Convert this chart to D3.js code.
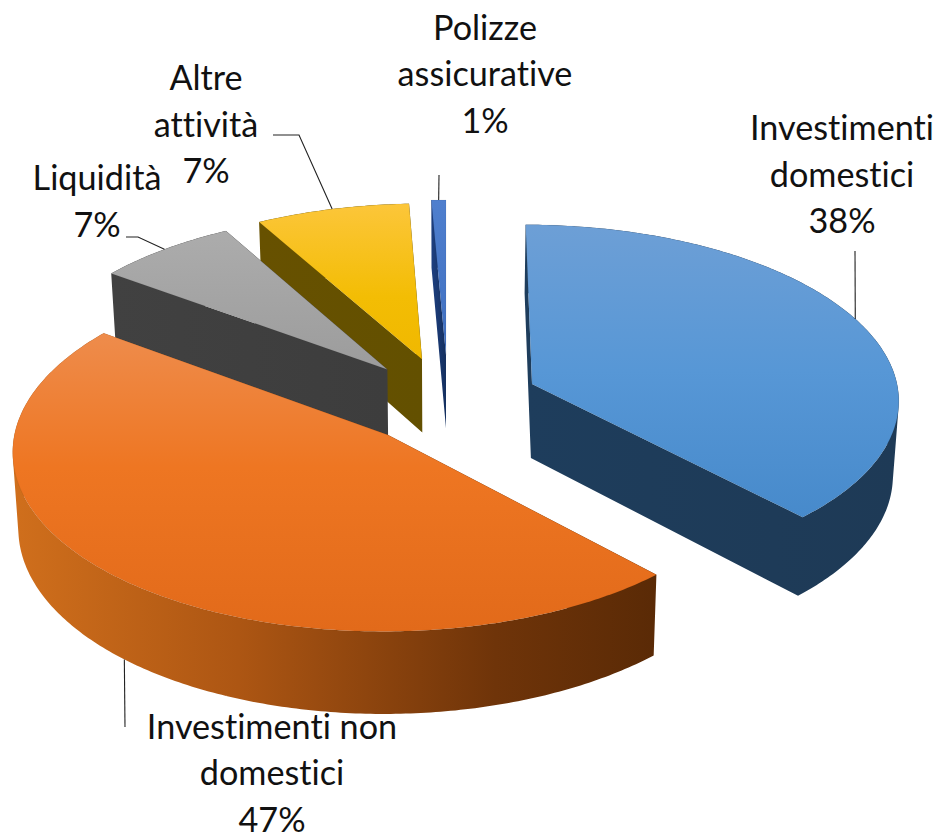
<!DOCTYPE html>
<html>
<head>
<meta charset="utf-8">
<script src="https://cdn.jsdelivr.net/npm/d3@7/dist/d3.min.js"></script>
<style>html,body{margin:0;padding:0;background:#fff;overflow:hidden}svg{display:block}text{font-variant-ligatures:none}</style>
</head>
<body>
<svg id="chart" width="939" height="832"></svg>
<script>
// ---- data ----
const categories = ["Investimenti domestici","Investimenti non domestici","Liquidità","Altre attività","Polizze assicurative"];
const shares = [38, 47.1, 6.8, 7.4, 0.7];
const shareLabels = ["38%","47%","7%","7%","1%"];

// ---- layout / style (separate from the data) ----
const labelLines = [["Investimenti","domestici"],["Investimenti non","domestici"],["Liquidità"],["Altre","attività"],["Polizze","assicurative"]];
const labelPos = [[842,140],[272,738.5],[97,190],[206,90],[485,39.5]];
const leaderVia = [[[855,251]],[[125,727]],[[138,237],[126,237]],[[299,135],[273,135]],[[439,175]]];
const leaderOnBottom = [false,true,false,false,false];
const leaderFrac = [0.49,0.5,0.5,0.5,0.5];
const offsetX = [86,-56.6,-59,-24.3,0];
const offsetY = [0,0.29,-0.085,-0.145,-0.17];
const topStops = [
 [["0","#6d9fd6"],["0.5","#5797d6"],["1","#478acb"]],
 [["0","#ee8c4c"],["0.45","#ee7622"],["1","#e26a1a"]],
 [["0","#acacac"],["1","#9c9c9c"]],
 [["0","#fcc63a"],["0.6","#f3bd04"],["1","#f0b800"]],
 [["0","#4f7fce"],["1","#3f6fc0"]]
];
const wallStops = [
 [["0","#1e3d5c"],["1","#1e3a56"]],
 [["0","#d06f1c"],["0.35","#ad5613"],["0.75","#6f3409"],["1","#5a2a06"]],
 [["0","#414141"],["1","#3d3d3d"]],
 [["0","#675100"],["1","#635000"]],
 [["0","#1d3f80"],["1","#15305f"]]
];
const drawOrder = [4,3,2,0,1];

// projection: unit-circle plane in perspective
const vanishX = 446, baseY = 384, persp = 0.08, depth = 74, bottomShrink = 0.987;
const rx = d3.scaleLinear().domain([0,1]).range([0,365]);
const ry = d3.scaleLinear().domain([0,1]).range([0,172]);
function project(X, Y, bottom) {
  const s = 1 / (1 - persp * Y);
  const k = bottom ? bottomShrink : 1;
  return [vanishX + X * s * k, baseY + ry(Y) * s + (bottom ? depth * s : 0)];
}
function rimPoint(i, a, bottom) {
  return project(offsetX[i] + rx(Math.sin(a)), offsetY[i] - Math.cos(a), bottom);
}
function apex(i, bottom) { return project(offsetX[i], offsetY[i], bottom); }

const svg = d3.select("#chart");
const defs = svg.append("defs");
const pie = d3.pie().sort(null).value(d => d);
const arcs = pie(shares);
const line = d3.line();
const closed = pts => line(pts) + "Z";
// every sub-shape gets the same winding, so that overlaps stay filled under the nonzero rule
const wound = pts => closed(d3.polygonArea(pts) < 0 ? pts.slice().reverse() : pts);
const rim = (i, bottom) => {
  const d = arcs[i], n = Math.max(8, Math.ceil((d.endAngle - d.startAngle) * 80));
  return d3.range(n + 1).map(j => rimPoint(i, d.startAngle + (d.endAngle - d.startAngle) * j / n, bottom));
};

categories.forEach((c, i) => {
  const tp = rim(i, false).concat([apex(i, false)]);
  const ty = d3.extent(tp, p => p[1]);
  const tg = defs.append("linearGradient").attr("id", "top" + i).attr("gradientUnits", "userSpaceOnUse")
    .attr("x1", 0).attr("x2", 0).attr("y1", ty[0]).attr("y2", ty[1]);
  topStops[i].forEach(s => tg.append("stop").attr("offset", s[0]).attr("stop-color", s[1]));
  const wx = d3.extent(tp, p => p[0]);
  const wg = defs.append("linearGradient").attr("id", "wall" + i).attr("gradientUnits", "userSpaceOnUse")
    .attr("y1", 0).attr("y2", 0).attr("x1", wx[0]).attr("x2", wx[1]);
  wallStops[i].forEach(s => wg.append("stop").attr("offset", s[0]).attr("stop-color", s[1]));
});

const slices = svg.append("g");
drawOrder.forEach(i => {
  const g = slices.append("g").attr("class", "slice");
  const T = rim(i, false), B = rim(i, true);
  let wall = "";
  [0, T.length - 1].forEach(e => { wall += wound([apex(i, false), T[e], B[e], apex(i, true)]); });
  d3.range(T.length - 1).forEach(j => { wall += wound([T[j], T[j + 1], B[j + 1], B[j]]); });
  g.append("path").attr("d", wall).attr("fill", `url(#wall${i})`);
  g.append("path").attr("d", closed(T.concat([apex(i, false)]))).attr("fill", `url(#top${i})`)
    .attr("stroke", "#000").attr("stroke-opacity", 0.06).attr("stroke-width", 1);
});

// leader lines
const leaders = svg.append("g").attr("fill", "none").attr("stroke", "#222").attr("stroke-width", 1.1);
categories.forEach((c, i) => {
  const d = arcs[i];
  const anchor = rimPoint(i, d.startAngle + (d.endAngle - d.startAngle) * leaderFrac[i], leaderOnBottom[i]);
  leaders.append("path").attr("d", line([anchor].concat(leaderVia[i])));
});

// labels
const labels = svg.append("g").attr("font-family", "Lato, 'Open Sans', sans-serif")
  .attr("font-size", 34.2).attr("fill", "#111").attr("text-anchor", "middle");
categories.forEach((c, i) => {
  const lines = labelLines[i].concat([shareLabels[i]]);
  const t = labels.append("text").attr("x", labelPos[i][0]).attr("y", labelPos[i][1]);
  lines.forEach((l, j) => {
    t.append("tspan").attr("x", labelPos[i][0]).attr("dy", j ? 46.5 : 0).text(l);
  });
});
</script>
</body>
</html>
